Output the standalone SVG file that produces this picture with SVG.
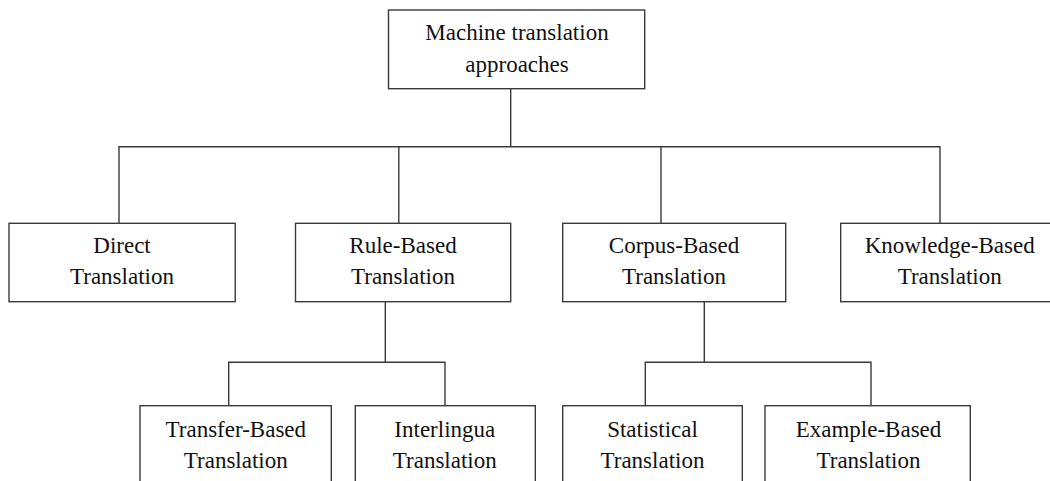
<svg xmlns="http://www.w3.org/2000/svg" width="1050" height="481" viewBox="0 0 1050 481">
<style>
.box{fill:#fff;stroke:#3a3a3a;stroke-width:1.4}
.lbl{font-family:"Liberation Serif","Times New Roman",serif;font-size:23px;fill:#111;text-anchor:middle}
.conn{fill:none;stroke:#3a3a3a;stroke-width:1.4}
</style>
<rect width="1050" height="481" fill="#fff"/>
<g id="connectors">
<path class="conn" d="M510.7,88.7 V146.7"/>
<path class="conn" d="M119,223.3 V146.7 H940 V223.3"/>
<path class="conn" d="M398.8,146.7 V223.3"/>
<path class="conn" d="M661,146.7 V223.3"/>
<path class="conn" d="M385.3,301.7 V362.3"/>
<path class="conn" d="M228.7,405.7 V362.3 H445 V405.7"/>
<path class="conn" d="M704.3,301.7 V362.3"/>
<path class="conn" d="M645.3,405.7 V362.3 H871 V405.7"/>
</g>
<g id="root">
<rect class="box" x="388.5" y="10" width="256.2" height="78.7"/>
<text class="lbl" x="517" y="40">Machine translation</text>
<text class="lbl" x="517" y="71.5">approaches</text>
</g>
<g id="direct">
<rect class="box" x="9" y="223.3" width="226.2" height="78.4"/>
<text class="lbl" x="122" y="253.3">Direct</text>
<text class="lbl" x="122" y="284.3">Translation</text>
</g>
<g id="rule">
<rect class="box" x="295.5" y="223.3" width="215.2" height="78.4"/>
<text class="lbl" x="403" y="253.3">Rule-Based</text>
<text class="lbl" x="403" y="284.3">Translation</text>
</g>
<g id="corpus">
<rect class="box" x="562.7" y="223.3" width="223" height="78.4"/>
<text class="lbl" x="674" y="253.3">Corpus-Based</text>
<text class="lbl" x="674" y="284.3">Translation</text>
</g>
<g id="knowledge">
<rect class="box" x="840.7" y="223.3" width="218" height="78.4"/>
<text class="lbl" x="949.7" y="253.3">Knowledge-Based</text>
<text class="lbl" x="949.7" y="284.3">Translation</text>
</g>
<g id="transfer">
<rect class="box" x="140" y="405.7" width="191.3" height="90"/>
<text class="lbl" x="235.8" y="436.7">Transfer-Based</text>
<text class="lbl" x="235.8" y="467.7">Translation</text>
</g>
<g id="interlingua">
<rect class="box" x="355.3" y="405.7" width="180" height="90"/>
<text class="lbl" x="444.8" y="436.7">Interlingua</text>
<text class="lbl" x="444.8" y="467.7">Translation</text>
</g>
<g id="statistical">
<rect class="box" x="562.7" y="405.7" width="179.6" height="90"/>
<text class="lbl" x="652.5" y="436.7">Statistical</text>
<text class="lbl" x="652.5" y="467.7">Translation</text>
</g>
<g id="example">
<rect class="box" x="765" y="405.7" width="205.3" height="90"/>
<text class="lbl" x="868.5" y="436.7">Example-Based</text>
<text class="lbl" x="868.5" y="467.7">Translation</text>
</g>
</svg>
